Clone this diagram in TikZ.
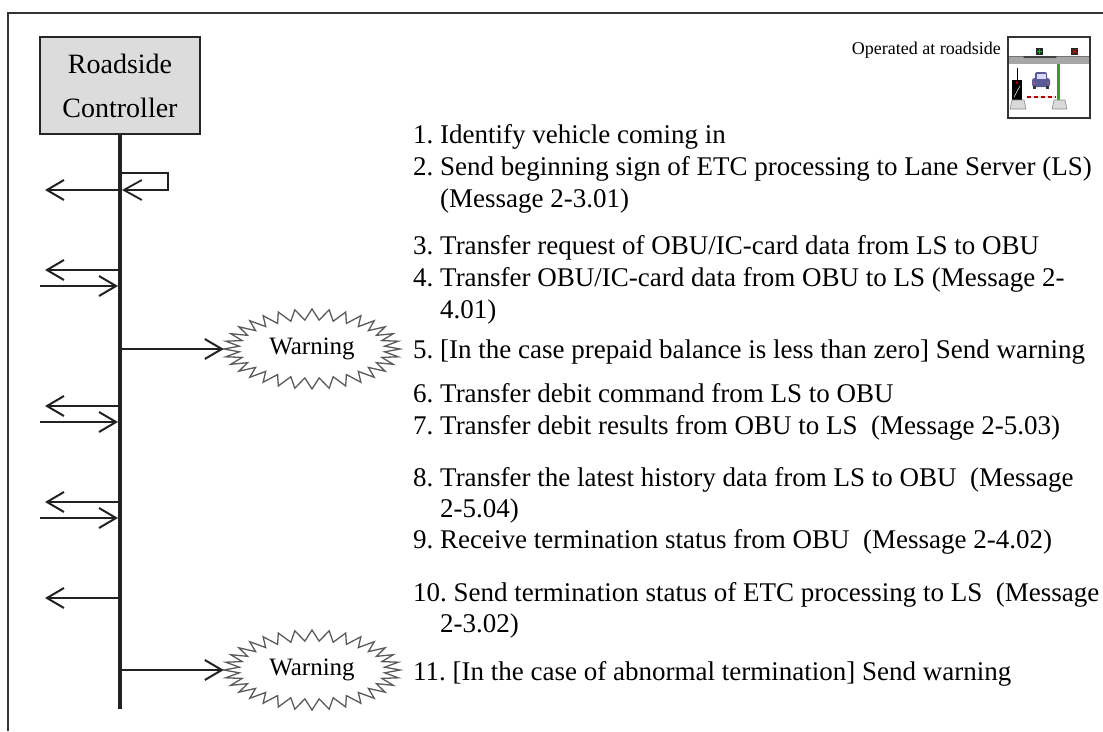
\documentclass[tikz,border=0pt]{standalone}
\usepackage{fontspec}
\setmainfont{Liberation Serif}
\usetikzlibrary{arrows.meta,shapes.geometric}
\definecolor{boxgray}{HTML}{DCDCDC}
\definecolor{inkdark}{HTML}{222222}
\definecolor{burstgray}{HTML}{5A5A5A}
\definecolor{carblue}{HTML}{5A5A96}
\definecolor{polegreen}{HTML}{3C9A28}
\frenchspacing
\begin{document}
\begin{tikzpicture}[x=1pt,y=-1pt,
  frame/.style={line width=2pt, draw=black!80},
  ctrl/.style={draw=black!85, line width=2pt, fill=boxgray, minimum width=160pt,
    minimum height=97pt, inner sep=0pt, align=center, font=\fontsize{28}{44}\selectfont},
  lifeline/.style={line width=4pt, draw=inkdark},
  msg/.style={line width=2pt, draw=inkdark,
    -{Straight Barb[length=17pt,width=20pt,line width=2pt]}},
  selfmsg/.style={line width=1.6pt, draw=inkdark,
    -{Straight Barb[length=18pt,width=20pt,line width=1.8pt]}},
  item/.style={anchor=base west, inner sep=0pt, font=\fontsize{27}{32}\selectfont},
  note/.style={anchor=base east, inner sep=0pt, font=\fontsize{18}{22}\selectfont},
  warnnode/.style={ellipse, minimum width=176pt, minimum height=80pt, inner sep=0pt,
    font=\fontsize{25}{30}\selectfont},
  burst/.style={draw=burstgray, line width=1.3pt, line join=miter},
]
\useasboundingbox (0,0) rectangle (1103,731);

% outer frame (open at bottom and right)
\draw[frame] (8,731) -- (8,13) -- (1103,13);

% controller and its lifeline
\node[ctrl] (rc) at (120,85.5) {Roadside\\Controller};
\coordinate (lend) at (120,709);
\draw[lifeline] (rc.south) -- (lend);

% warning bursts
\node[warnnode] (w1) at (312,349) {Warning};
\node[warnnode] (w2) at (312,670) {Warning};
\foreach \w in {w1,w2}{
  \begin{scope}[shift={(\w.center)}]
    \draw[burst] plot[domain=0:64, samples=65, variable=\k]
      ({(88-15*mod(\k,2))*cos(\k*5.625)}, {(40-11*mod(\k,2))*sin(\k*5.625)}) -- cycle;
  \end{scope}
}

% step 1: self message, step 2: to lane server
\coordinate (a1) at (120,173);
\coordinate (a1r) at (168,173);
\coordinate (a1d) at (168,190);
\coordinate (a1e) at (122,190);
\draw[selfmsg] (a1) -- (a1r) -- (a1d) -- (a1e);
\coordinate (a2) at (120,190);
\coordinate (a2e) at (45,190);
\draw[msg] (a2) -- (a2e);

% steps 3-4
\coordinate (b3) at (120,270);  \coordinate (b3e) at (45,270);
\coordinate (b4s) at (40,286);  \coordinate (b4) at (118,286);
\draw[msg] (b3) -- (b3e);
\draw[msg] (b4s) -- (b4);

% step 5
\coordinate (c5) at (120,349);
\draw[msg] (c5) -- (w1.west);

% steps 6-7
\coordinate (d6) at (120,406);  \coordinate (d6e) at (45,406);
\coordinate (d7s) at (40,422);  \coordinate (d7) at (118,422);
\draw[msg] (d6) -- (d6e);
\draw[msg] (d7s) -- (d7);

% steps 8-9
\coordinate (e8) at (120,502);  \coordinate (e8e) at (45,502);
\coordinate (e9s) at (40,518);  \coordinate (e9) at (118,518);
\draw[msg] (e8) -- (e8e);
\draw[msg] (e9s) -- (e9);

% step 10
\coordinate (f10) at (120,598); \coordinate (f10e) at (45,598);
\draw[msg] (f10) -- (f10e);

% step 11
\coordinate (g11) at (120,670);
\draw[msg] (g11) -- (w2.west);

% step descriptions
\node[item] (t1)   at (413,143) {1. Identify vehicle coming in};
\node[item] (t2)   at (413,175) {2. Send beginning sign of ETC processing to Lane Server (LS)};
\node[item] (t2b)  at (440,207) {(Message 2-3.01)};
\node[item] (t3)   at (413,254) {3. Transfer request of OBU/IC-card data from LS to OBU};
\node[item] (t4)   at (413,286) {4. Transfer OBU/IC-card data from OBU to LS (Message 2-};
\node[item] (t4b)  at (440,318) {4.01)};
\node[item] (t5)   at (413,358) {5. [In the case prepaid balance is less than zero] Send warning};
\node[item] (t6)   at (413,402) {6. Transfer debit command from LS to OBU};
\node[item] (t7)   at (413,434) {7. Transfer debit results from OBU to LS~~(Message 2-5.03)};
\node[item] (t8)   at (413,486) {8. Transfer the latest history data from LS to OBU~~(Message};
\node[item] (t8b)  at (440,517) {2-5.04)};
\node[item] (t9)   at (413,548) {9. Receive termination status from OBU~~(Message 2-4.02)};
\node[item] (t10)  at (413,601) {10. Send termination status of ETC processing to LS~~(Message};
\node[item] (t10b) at (440,632) {2-3.02)};
\node[item] (t11)  at (413,680) {11. [In the case of abnormal termination] Send warning};

% roadside icon
\node[note] (op) at (1001,54) {Operated at roadside};
\draw[line width=1.5pt, draw=black!80, fill=white] (1008,37) rectangle (1090,118);
\fill[black!35] (1009,56) rectangle (1089,64);
\draw[black!55, line width=0.8pt] (1009,56) -- (1089,56);
\draw[black!75, line width=1.2pt, line cap=round] (1024,57) -- (1056,57);
\fill[black!85] (1036,48) rectangle (1043,55);
\draw[green!75!black, line width=0.9pt] (1039.5,49.3) -- (1039.5,53.7) (1037.3,51.5) -- (1041.7,51.5);
\fill[black!85] (1071,48) rectangle (1078,55);
\draw[red!85!black, line width=0.9pt] (1072.6,49.6) -- (1076.4,53.4) (1072.6,53.4) -- (1076.4,49.6);
\fill[polegreen] (1057,64) rectangle (1060,100);
\draw[black, line width=0.8pt] (1017,80) -- (1017,68);
\fill[black] (1012,80) rectangle (1022,100);
\fill[red!80!black] (1017,82.5) circle (1.3);
\draw[white, line width=0.5pt] (1014,97) -- (1020,86);
\filldraw[fill=black!15, draw=black!45, line width=0.6pt]
  (1010,109) -- (1012,100) -- (1024,100) -- (1026,109) -- cycle;
\filldraw[fill=black!15, draw=black!45, line width=0.6pt]
  (1052,109) -- (1054,100) -- (1065,100) -- (1067,109) -- cycle;
\draw[line width=1.6pt, black!12] (1027,97) -- (1056,97);
\draw[line width=1.6pt, red!70!black, dash pattern=on 4pt off 3pt] (1027,97) -- (1056,97);
\fill[carblue, rounded corners=2pt] (1035,72) rectangle (1047,80);
\fill[carblue, rounded corners=2.5pt] (1032,78) rectangle (1050,87);
\fill[blue!15!white] (1036.5,74) rectangle (1045.5,78.5);
\fill[black!80] (1033,86) rectangle (1036,89);
\fill[black!80] (1046,86) rectangle (1049,89);
\fill[red!70] (1034,83) circle (0.9);
\fill[red!70] (1048,83) circle (0.9);
\end{tikzpicture}
\end{document}
